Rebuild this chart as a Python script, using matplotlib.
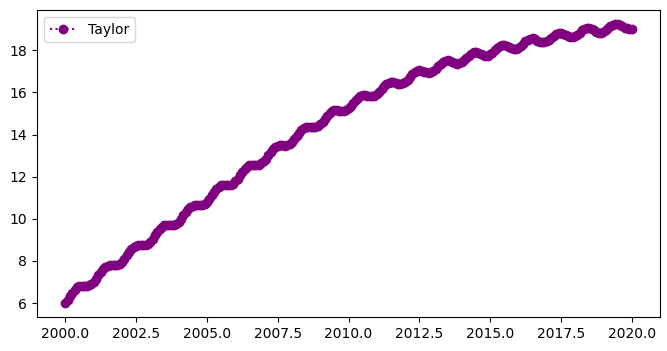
import numpy as np
import matplotlib
matplotlib.use("Agg")
import matplotlib.pyplot as plt

# monthly readings, Jan 2000 .. Jan 2020
values = [
    6.00, 6.15, 6.32, 6.48, 6.63, 6.74, 6.80, 6.82, 6.83, 6.83, 6.85, 6.91,   # 2000
    7.02, 7.15, 7.32, 7.48, 7.62, 7.72, 7.78, 7.80, 7.80, 7.79, 7.81, 7.87,   # 2001
    7.97, 8.10, 8.27, 8.43, 8.57, 8.67, 8.73, 8.75, 8.75, 8.74, 8.76, 8.82,   # 2002
    8.92, 9.05, 9.21, 9.38, 9.51, 9.62, 9.68, 9.69, 9.69, 9.69, 9.70, 9.76,   # 2003
    9.86, 9.99, 10.16, 10.32, 10.46, 10.56, 10.62, 10.64, 10.64, 10.63, 10.65, 10.71,  # 2004
    10.81, 10.95, 11.11, 11.27, 11.41, 11.52, 11.58, 11.60, 11.60, 11.60, 11.62, 11.67,  # 2005
    11.78, 11.91, 12.08, 12.24, 12.38, 12.48, 12.54, 12.56, 12.56, 12.55, 12.57, 12.63,  # 2006
    12.73, 12.86, 13.02, 13.18, 13.31, 13.41, 13.47, 13.49, 13.48, 13.47, 13.49, 13.54,  # 2007
    13.64, 13.77, 13.92, 14.07, 14.20, 14.30, 14.35, 14.36, 14.35, 14.34, 14.35, 14.39,  # 2008
    14.49, 14.61, 14.75, 14.90, 15.02, 15.11, 15.15, 15.15, 15.13, 15.11, 15.11, 15.15,  # 2009
    15.24, 15.35, 15.49, 15.63, 15.75, 15.83, 15.87, 15.86, 15.84, 15.81, 15.81, 15.84,  # 2010
    15.92, 16.02, 16.16, 16.29, 16.40, 16.47, 16.50, 16.49, 16.46, 16.42, 16.41, 16.44,  # 2011
    16.51, 16.61, 16.73, 16.86, 16.96, 17.03, 17.05, 17.03, 16.99, 16.95, 16.93, 16.95,  # 2012
    17.02, 17.11, 17.23, 17.35, 17.44, 17.50, 17.52, 17.49, 17.44, 17.40, 17.37, 17.38,  # 2013
    17.44, 17.53, 17.64, 17.75, 17.84, 17.90, 17.91, 17.88, 17.82, 17.77, 17.74, 17.75,  # 2014
    17.80, 17.88, 17.99, 18.10, 18.19, 18.24, 18.25, 18.21, 18.16, 18.10, 18.07, 18.07,  # 2015
    18.12, 18.20, 18.31, 18.42, 18.50, 18.55, 18.56, 18.52, 18.46, 18.41, 18.37, 18.37,  # 2016
    18.42, 18.50, 18.60, 18.70, 18.78, 18.83, 18.83, 18.79, 18.73, 18.67, 18.63, 18.62,  # 2017
    18.67, 18.74, 18.84, 18.94, 19.02, 19.06, 19.06, 19.02, 18.95, 18.89, 18.84, 18.84,  # 2018
    18.88, 18.95, 19.04, 19.14, 19.21, 19.25, 19.25, 19.20, 19.13, 19.07, 19.04, 19.02,  # 2019
    19.01,                                                                    # 2020
]
years = 2000 + np.arange(len(values)) / 12
label = "Taylor"

fig = plt.figure(figsize=(6.67, 3.51), dpi=100)
ax = fig.add_subplot(111)
fig.subplots_adjust(left=0.0555, right=0.9895, bottom=0.097, top=0.9715)

ax.plot(years, values, ":o", color="purple", label=label)
ax.legend(loc="upper left")

fig.savefig("out.png", dpi=100)
